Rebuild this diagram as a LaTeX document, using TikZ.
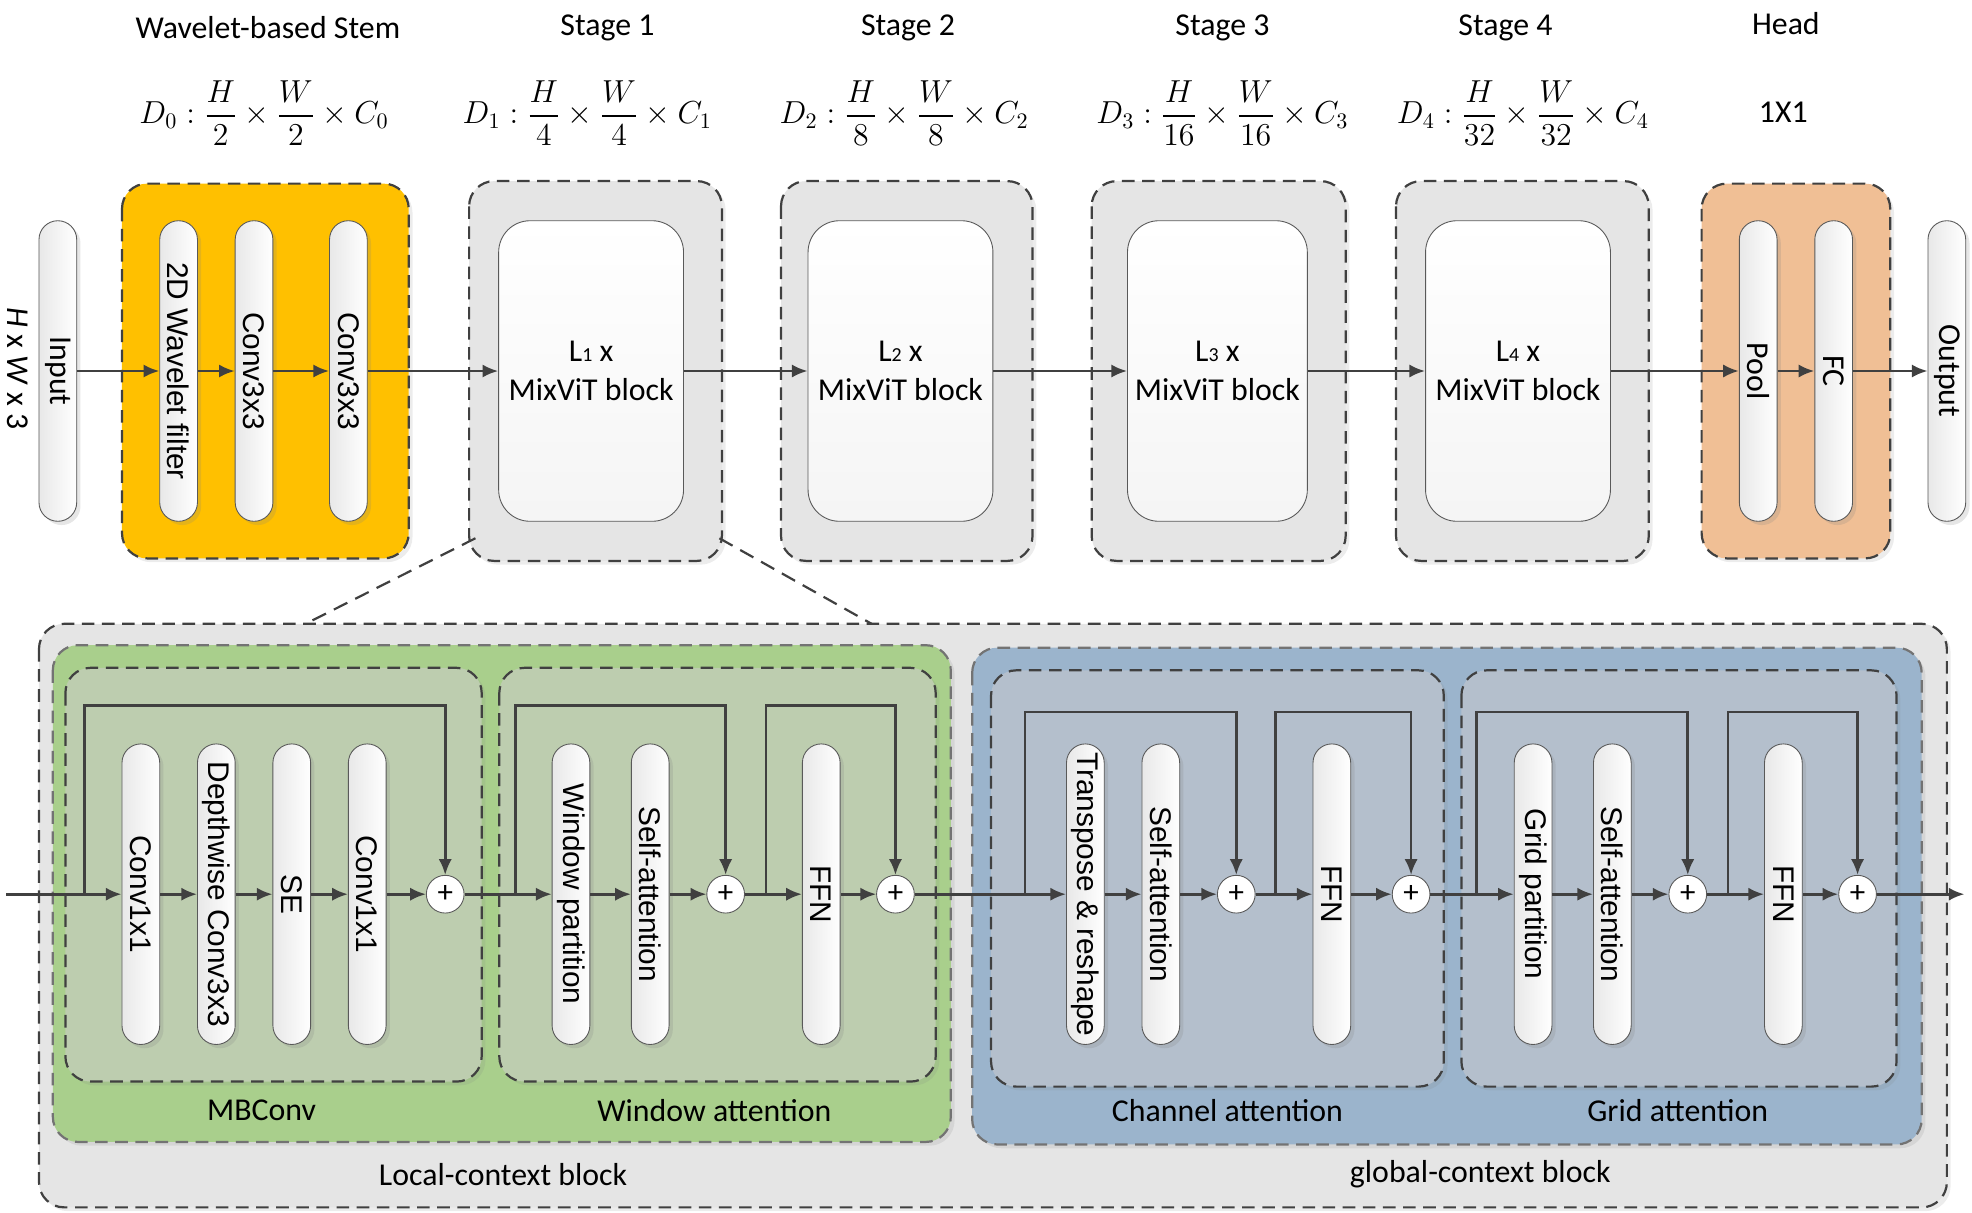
\documentclass[tikz,border=0pt]{standalone}
\usepackage{fontspec}
\usepackage{amsmath}
\usepackage{graphicx}
\setmainfont{Carlito}
\newfontfamily\arialf{Liberation Sans}
\usetikzlibrary{shadows,arrows.meta}
\definecolor{stemorange}{HTML}{FFC000}
\definecolor{headpeach}{HTML}{F0BF95}
\definecolor{stagegray}{HTML}{E5E5E5}
\definecolor{localgreen}{HTML}{A9CF8C}
\definecolor{localinner}{HTML}{BDCDAF}
\definecolor{globalblue}{HTML}{9BB4CC}
\definecolor{globalinner}{HTML}{B4BFCC}
\definecolor{linegray}{HTML}{404040}

\begin{document}
\begin{tikzpicture}[x=0.2mm,y=-0.2mm,
  txt/.style={font=\fontsize{14.4}{17.3}\selectfont},
  capsule/.style={draw=black!65,line width=0.4pt,rounded corners=3mm,minimum width=6mm,minimum height=47.8mm,inner sep=0pt,left color=black!9,right color=white,font=\arialf\fontsize{13.5}{16}\selectfont,drop shadow={opacity=0.2,shadow xshift=0.6mm,shadow yshift=-0.6mm}},
  capsulec/.style={capsule,font=\fontsize{14.4}{17}\selectfont},
  block/.style={draw=black!65,line width=0.4pt,rounded corners=5mm,minimum width=29.4mm,minimum height=47.8mm,top color=white,bottom color=black!4,align=center,txt},
  plus/.style={circle,draw=black!65,fill=white,inner sep=0pt,minimum size=6mm,font=\fontsize{14}{14}\selectfont},
  frame/.style={draw=linegray,line width=1pt,dash pattern=on 2mm off 1.2mm,rounded corners=4mm,drop shadow={opacity=0.15,shadow xshift=0.6mm,shadow yshift=-0.6mm}},
  zoomline/.style={draw=linegray,line width=1pt,dash pattern=on 2.4mm off 1.4mm},
  arr/.style={-{Latex[length=2.5mm,width=2.1mm]},line width=1.2pt,draw=linegray}]
\useasboundingbox (0,0) rectangle (1568,964);

\node[txt] (tstem) at (213,22) {Wavelet-based Stem};
\node[txt] (tst1) at (483,22) {Stage 1};
\node[txt] (tst2) at (722,22) {Stage 2};
\node[txt] (tst3) at (972,22) {Stage 3};
\node[txt] (tst4) at (1197,22) {Stage 4};
\node[txt] (thead) at (1420,19) {Head};
\node[txt] (dstem) at (210,90) {$D_0:\dfrac{H}{2}\times\dfrac{W}{2}\times C_0$};
\node[txt] (dst1) at (467,90) {$D_1:\dfrac{H}{4}\times\dfrac{W}{4}\times C_1$};
\node[txt] (dst2) at (719,90) {$D_2:\dfrac{H}{8}\times\dfrac{W}{8}\times C_2$};
\node[txt] (dst3) at (972,90) {$D_3:\dfrac{H}{16}\times\dfrac{W}{16}\times C_3$};
\node[txt] (dst4) at (1211,90) {$D_4:\dfrac{H}{32}\times\dfrac{W}{32}\times C_4$};
\node[txt] (dhead) at (1418,89) {1X1};

\draw[frame,fill=stemorange] (97,146) rectangle (325,444);
\draw[frame,fill=stagegray] (373,144) rectangle (574,446);
\draw[frame,fill=stagegray] (621,144) rectangle (821,446);
\draw[frame,fill=stagegray] (868,144) rectangle (1070,446);
\draw[frame,fill=stagegray] (1110,144) rectangle (1311,446);
\draw[frame,fill=headpeach] (1353,146) rectangle (1503,444);

\node[txt,rotate=-90] (hw) at (14,293) {\textit{H} x \textit{W} x 3};
\node[capsulec] (inp) at (46,295) {\rotatebox{-90}{Input}};
\node[capsule] (s1) at (142,295) {\rotatebox{-90}{2D Wavelet filter}};
\node[capsule] (s2) at (202,295) {\rotatebox{-90}{Conv3x3}};
\node[capsule] (s3) at (277,295) {\rotatebox{-90}{Conv3x3}};
\node[block] (b1) at (470,295) {L{\small 1} x\\MixViT block};
\node[block] (b2) at (716,295) {L{\small 2} x\\MixViT block};
\node[block,minimum width=27.8mm] (b3) at (968,295) {L{\small 3} x\\MixViT block};
\node[block] (b4) at (1207,295) {L{\small 4} x\\MixViT block};
\node[capsulec] (pool) at (1398,295) {\rotatebox{-90}{Pool}};
\node[capsulec] (fc) at (1458,295) {\rotatebox{-90}{FC}};
\node[capsulec] (outp) at (1548,295) {\rotatebox{-90}{Output}};

\draw[arr] (inp) -- (s1);
\draw[arr] (s1) -- (s2);
\draw[arr] (s2) -- (s3);
\draw[arr] (s3) -- (b1);
\draw[arr] (b1) -- (b2);
\draw[arr] (b2) -- (b3);
\draw[arr] (b3) -- (b4);
\draw[arr] (b4) -- (pool);
\draw[arr] (pool) -- (fc);
\draw[arr] (fc) -- (outp);

\draw[zoomline] (378,428) -- (243,496);
\draw[zoomline] (572,428) -- (693,496);

\draw[frame,fill=black!10] (31,496) rectangle (1548,960);
\draw[frame,draw=black!55,fill=localgreen] (42,513) rectangle (756,908);
\draw[frame,fill=localinner] (52,531) rectangle (383,860);
\draw[frame,fill=localinner] (397,531) rectangle (744,860);
\draw[frame,draw=black!55,fill=globalblue] (773,515) rectangle (1528,910);
\draw[frame,fill=globalinner] (788,533) rectangle (1148,864);
\draw[frame,fill=globalinner] (1162,533) rectangle (1508,864);

\node[txt] (lmb) at (208,883) {MBConv};
\node[txt] (lwa) at (568,883) {Window attention};
\node[txt] (lca) at (976,883) {Channel attention};
\node[txt] (lga) at (1334,883) {Grid attention};
\node[txt] (lloc) at (400,934) {Local-context block};
\node[txt] (lglob) at (1177,934) {global-context block};

\node[capsule] (c1) at (112,711) {\rotatebox{-90}{Conv1x1}};
\node[capsule] (c2) at (172,711) {\rotatebox{-90}{Depthwise Conv3x3}};
\node[capsule] (c3) at (232,711) {\rotatebox{-90}{SE}};
\node[capsule] (c4) at (292,711) {\rotatebox{-90}{Conv1x1}};
\node[plus] (p1) at (354,711) {+};
\node[capsule] (w1) at (454,711) {\rotatebox{-90}{Window partition}};
\node[capsule] (w2) at (517,711) {\rotatebox{-90}{Self-attention}};
\node[plus] (p2) at (577,711) {+};
\node[capsule] (f1) at (653,711) {\rotatebox{-90}{FFN}};
\node[plus] (p3) at (712,711) {+};
\node[capsule] (t1) at (863,711) {\rotatebox{-90}{Transpose \& reshape}};
\node[capsule] (a1) at (923,711) {\rotatebox{-90}{Self-attention}};
\node[plus] (p4) at (983,711) {+};
\node[capsule] (f2) at (1059,711) {\rotatebox{-90}{FFN}};
\node[plus] (p5) at (1122,711) {+};
\node[capsule] (g1) at (1219,711) {\rotatebox{-90}{Grid partition}};
\node[capsule] (a2) at (1282,711) {\rotatebox{-90}{Self-attention}};
\node[plus] (p6) at (1342,711) {+};
\node[capsule] (f3) at (1418,711) {\rotatebox{-90}{FFN}};
\node[plus] (p7) at (1477,711) {+};
\coordinate (in0) at (5,711);
\coordinate (out0) at (1562,711);

\draw[arr] (in0) -- (c1);
\draw[arr] (c1) -- (c2);
\draw[arr] (c2) -- (c3);
\draw[arr] (c3) -- (c4);
\draw[arr] (c4) -- (p1);
\draw[arr] (p1) -- (w1);
\draw[arr] (w1) -- (w2);
\draw[arr] (w2) -- (p2);
\draw[arr] (p2) -- (f1);
\draw[arr] (f1) -- (p3);
\draw[arr] (p3) -- (t1);
\draw[arr] (t1) -- (a1);
\draw[arr] (a1) -- (p4);
\draw[arr] (p4) -- (f2);
\draw[arr] (f2) -- (p5);
\draw[arr] (p5) -- (g1);
\draw[arr] (g1) -- (a2);
\draw[arr] (a2) -- (p6);
\draw[arr] (p6) -- (f3);
\draw[arr] (f3) -- (p7);
\draw[arr] (p7) -- (out0);

\coordinate (k1) at (67,711);
\coordinate (k2) at (410,711);
\coordinate (k3) at (609,711);
\coordinate (k4) at (815,711);
\coordinate (k5) at (1014,711);
\coordinate (k6) at (1174,711);
\coordinate (k7) at (1374,711);
\draw[arr] (k1) |- (p1 |- 0,561) -- (p1);
\draw[arr] (k2) |- (p2 |- 0,561) -- (p2);
\draw[arr] (k3) |- (p3 |- 0,561) -- (p3);
\draw[arr] (k4) |- (p4 |- 0,566) -- (p4);
\draw[arr] (k5) |- (p5 |- 0,566) -- (p5);
\draw[arr] (k6) |- (p6 |- 0,566) -- (p6);
\draw[arr] (k7) |- (p7 |- 0,566) -- (p7);
\end{tikzpicture}
\end{document}
